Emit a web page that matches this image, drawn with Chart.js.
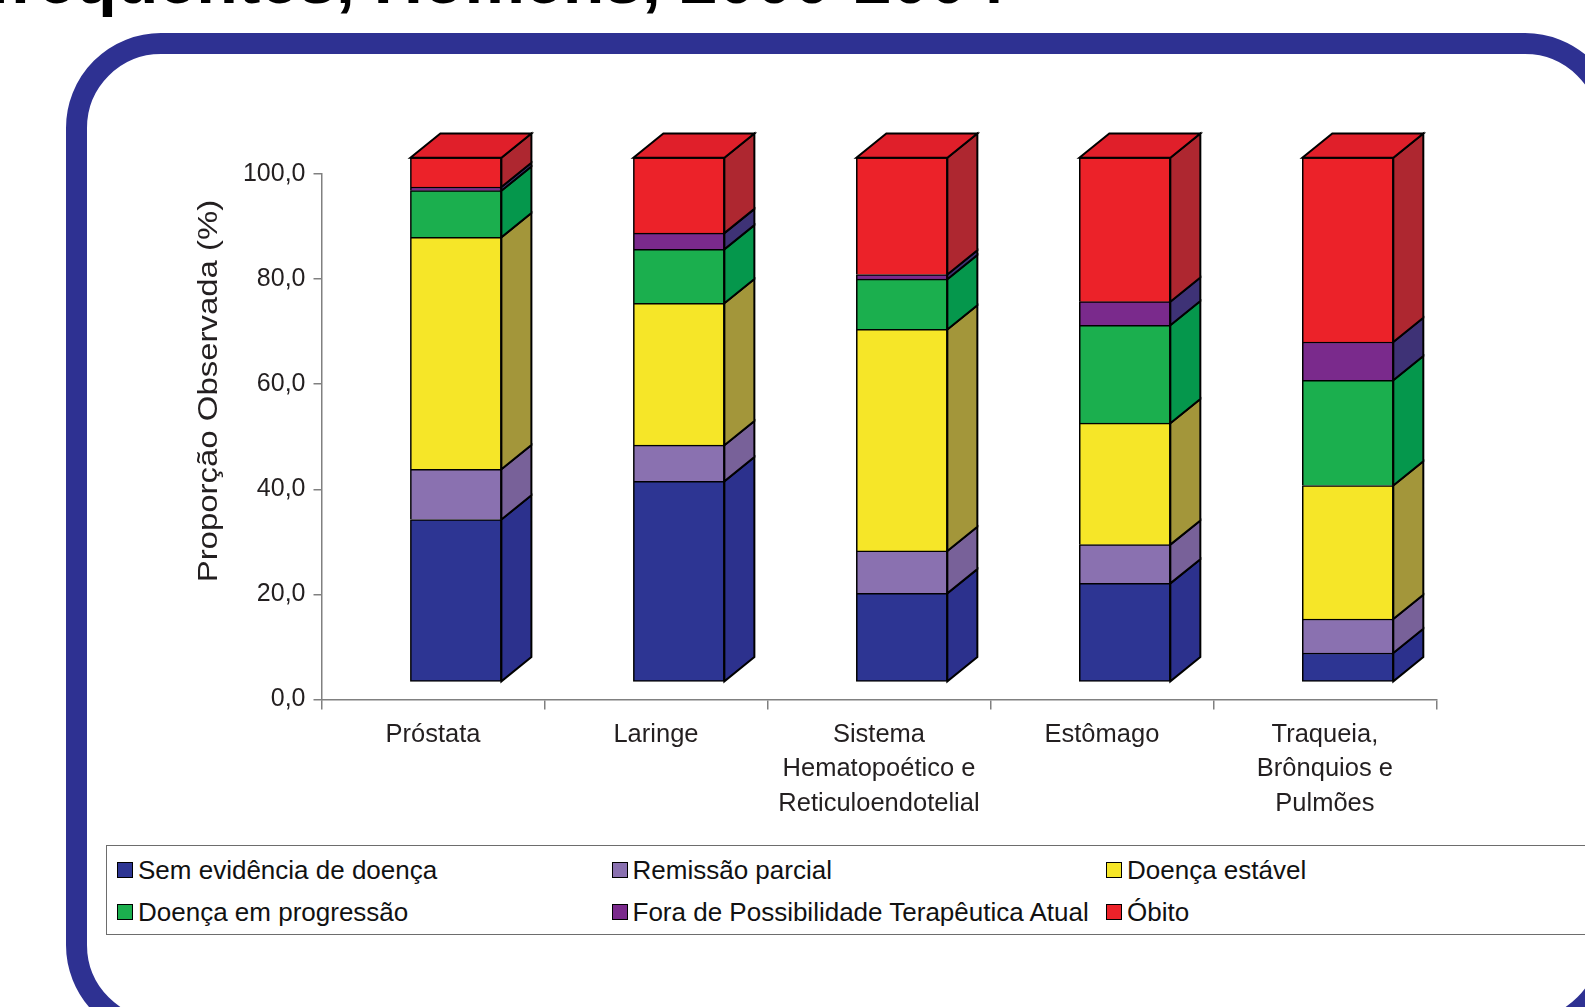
<!DOCTYPE html>
<html lang="pt-BR">
<head>
<meta charset="utf-8">
<title>Situação ao final do tratamento – Homens, 2000-2004</title>
<script src="https://cdn.jsdelivr.net/npm/chart.js@4.4.1/dist/chart.umd.min.js"></script>
<style>
  html, body { margin: 0; padding: 0; background: #ffffff; }
  #page { position: relative; width: 1585px; height: 1007px; overflow: hidden; background: #ffffff; }
  #frame {
    position: absolute; left: 66px; top: 33px; width: 1554px; height: 1007px;
    box-sizing: border-box; border: 21px solid #2E3192; border-radius: 95px;
  }
  #wrap { position: absolute; left: 0; top: 0; width: 1585px; height: 1007px; }
  #legend {
    position: absolute; left: 106px; top: 845px; width: 1560px; height: 90px;
    box-sizing: border-box; border: 1.5px solid #6d6d6d; background: #ffffff;
    font: 26px 'Liberation Sans', Arial, sans-serif; color: #111111;
  }
  #legend .item { position: absolute; height: 30px; display: flex; align-items: center; white-space: nowrap; }
  #legend .sw { width: 14px; height: 14px; border: 1.5px solid #000000; margin-right: 5px; flex: none; }
</style>
</head>
<body>
<div id="page">
  <div id="frame"></div>
  <div id="wrap"><canvas id="chart"></canvas></div>
  <div id="legend"></div>
</div>
<script>
// Categories (tumour sites) and their axis labels, split into lines
const categories = ['Próstata', 'Laringe', 'Sistema Hematopoético e Reticuloendotelial', 'Estômago', 'Traqueia, Brônquios e Pulmões'];
const categoryLabels = [
  ['Próstata'],
  ['Laringe'],
  ['Sistema', 'Hematopoético e', 'Reticuloendotelial'],
  ['Estômago'],
  ['Traqueia,', 'Brônquios e', 'Pulmões']
];

// Observed proportion (%) per outcome, one value per category
const semEvidencia = [30.9, 38.2, 16.8, 18.7, 5.4];
const remissaoParcial = [9.6, 6.9, 8.1, 7.4, 6.5];
const doencaEstavel = [44.3, 27.1, 42.3, 23.2, 25.5];
const doencaProgressao = [8.9, 10.3, 9.6, 18.7, 20.1];
const foraPossibilidade = [0.7, 3.1, 0.9, 4.5, 7.3];
const obito = [5.6, 14.4, 22.3, 27.5, 35.2];

const seriesNames = [
  'Sem evidência de doença', 'Remissão parcial', 'Doença estável',
  'Doença em progressão', 'Fora de Possibilidade Terapêutica Atual', 'Óbito'
];
const seriesValues = [semEvidencia, remissaoParcial, doencaEstavel, doencaProgressao, foraPossibilidade, obito];

// Y axis tick values
const yTickValues = [0, 20, 40, 60, 80, 100];

// Face colours: front, side (shaded) and the top of the last segment
const frontColors = ['#2D3593', '#8A71B0', '#F6E628', '#1BAF4E', '#7A2A8C', '#EC2229'];
const sideColors = ['#2C318D', '#786199', '#A3963A', '#05974C', '#3E3276', '#AE2730'];
const topColor = '#E01F2A';

const FONT = "'Liberation Sans', Arial, sans-serif";
const depthX = 30, depthY = -24.2;

// Legend (fixed three-column layout)
(function buildLegend() {
  const legend = document.getElementById('legend');
  const cols = [10, 504.5, 999];
  const rows = [9, 51];
  seriesNames.forEach((name, i) => {
    const item = document.createElement('div');
    item.className = 'item';
    item.style.left = cols[i % 3] + 'px';
    item.style.top = rows[Math.floor(i / 3)] + 'px';
    const sw = document.createElement('span');
    sw.className = 'sw';
    sw.style.background = frontColors[i];
    const label = document.createElement('span');
    label.textContent = name;
    item.appendChild(sw);
    item.appendChild(label);
    legend.appendChild(item);
  });
})();

// Side and top faces that give each stacked column its depth
const boxDepth = {
  id: 'boxDepth',
  afterDatasetsDraw(chart) {
    const ctx = chart.ctx;
    const last = chart.data.datasets.length - 1;
    ctx.save();
    ctx.lineWidth = 2;
    ctx.strokeStyle = '#000000';
    ctx.lineJoin = 'miter';
    chart.data.datasets.forEach((ds, di) => {
      const meta = chart.getDatasetMeta(di);
      meta.data.forEach(bar => {
        const p = bar.getProps(['x', 'y', 'base', 'width'], true);
        const l = p.x - p.width / 2, r = p.x + p.width / 2;
        const top = Math.min(p.y, p.base), bottom = Math.max(p.y, p.base);
        ctx.beginPath();
        ctx.moveTo(r, top);
        ctx.lineTo(r + depthX, top + depthY);
        ctx.lineTo(r + depthX, bottom + depthY);
        ctx.lineTo(r, bottom);
        ctx.closePath();
        ctx.fillStyle = sideColors[di];
        ctx.fill();
        ctx.stroke();
        if (di === last) {
          ctx.beginPath();
          ctx.moveTo(l, top);
          ctx.lineTo(l + depthX, top + depthY);
          ctx.lineTo(r + depthX, top + depthY);
          ctx.lineTo(r, top);
          ctx.closePath();
          ctx.fillStyle = topColor;
          ctx.fill();
          ctx.stroke();
        }
      });
    });
    ctx.restore();
  },
  afterDraw(chart) {
    const ctx = chart.ctx;
    ctx.save();
    // Heading line (continues above the page)
    ctx.font = 'bold 68px ' + FONT;
    ctx.fillStyle = '#000000';
    ctx.textAlign = 'right';
    ctx.textBaseline = 'alphabetic';
    ctx.fillText('Localizações mais frequentes, Homens, 2000-2004', 1005, 3);
    // Y axis title, slightly widened along its length
    ctx.translate(210, 391);
    ctx.rotate(-Math.PI / 2);
    ctx.scale(1.22, 1);
    ctx.font = '27px ' + FONT;
    ctx.fillStyle = '#231F20';
    ctx.textAlign = 'center';
    ctx.textBaseline = 'middle';
    ctx.fillText('Proporção Observada (%)', 0, 0);
    ctx.restore();
  }
};

const datasets = seriesNames.map((name, i) => ({
  label: name,
  data: seriesValues[i].map((v, k) => ({ x: k, y: v })),
  backgroundColor: frontColors[i],
  borderColor: '#000000',
  borderWidth: 1.5,
  borderSkipped: i === 0 ? false : 'start',
  barThickness: 91,
  xAxisID: 'xb',
  yAxisID: 'yb',
  clip: false
}));

new Chart(document.getElementById('chart'), {
  type: 'bar',
  data: { labels: categoryLabels, datasets },
  options: {
    responsive: true,
    maintainAspectRatio: false,
    animation: false,
    events: [],
    layout: { padding: { left: 181.5, right: 148.6, top: 173.9, bottom: 157.5 } },
    plugins: { legend: { display: false }, tooltip: { enabled: false }, title: { display: false } },
    scales: {
      x: {
        type: 'category',
        position: 'bottom',
        offset: true,
        grid: { offset: true, drawOnChartArea: false, tickLength: 10, color: '#808080', lineWidth: 1.5 },
        border: { display: true, color: '#808080', width: 1.5 },
        ticks: { color: '#231F20', font: { family: FONT, size: 25.5, lineHeight: 1.35 }, padding: 8, maxRotation: 0, autoSkip: false },
        afterFit(scale) { scale.height = 150; }
      },
      y: {
        type: 'linear',
        position: 'left',
        min: 0, max: 100,
        afterBuildTicks(scale) { scale.ticks = yTickValues.map(v => ({ value: v })); },
        grid: { drawOnChartArea: false, tickLength: 8, color: '#808080', lineWidth: 1.5 },
        border: { display: true, color: '#808080', width: 1.5 },
        ticks: {
          color: '#231F20', font: { family: FONT, size: 25 }, padding: 8,
          callback: v => v.toFixed(1).replace('.', ',')
        },
        afterFit(scale) { scale.width = 140; }
      },
      xb: {
        type: 'linear', axis: 'x', display: false, offset: false, stacked: true,
        min: -0.6027, max: 4.3973, grid: { offset: false }
      },
      yb: {
        type: 'linear', axis: 'y', display: false, stacked: true,
        min: -3.476, max: 96.906
      }
    }
  },
  plugins: [boxDepth]
});
</script>
</body>
</html>
